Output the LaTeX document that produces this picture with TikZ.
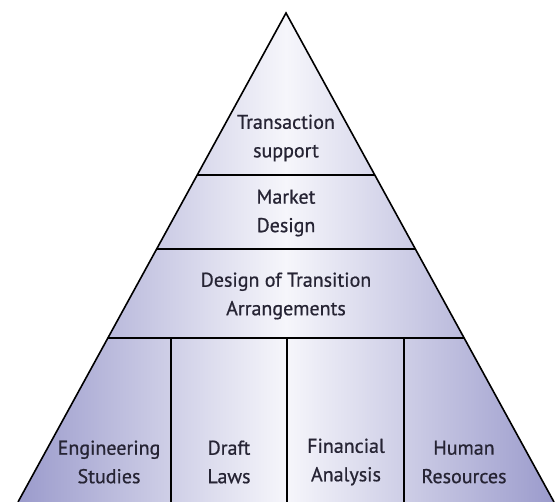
\documentclass[tikz,border=0pt]{standalone}
\usepackage{fontspec}
\setmainfont[FakeBold=0.7]{PT Sans}
\definecolor{edgecol}{RGB}{155,155,204}
\definecolor{midcol}{RGB}{246,246,251}
\definecolor{txtcol}{RGB}{38,36,52}
\begin{document}
\begin{tikzpicture}[x=1pt,y=-1pt,
  lbl/.style={align=center,text=txtcol,font=\fontsize{20}{28.5}\selectfont,inner sep=0pt},
  divline/.style={draw=black,line width=1.6pt}]
\useasboundingbox (0,0) rectangle (556,502);
\coordinate (apex) at (286,13);
\coordinate (bl) at (18,502);
\coordinate (br) at (554,502);
\begin{scope}
  \clip (apex) -- (bl) -- (br) -- cycle;
  \shade[left color=edgecol,right color=edgecol,middle color=midcol] (18,0) rectangle (554,502);
\end{scope}
% horizontal dividers
\draw[divline] (197,175) -- (375,175);
\draw[divline] (156,249) -- (416,249);
\draw[divline] (108,338) -- (464,338);
% vertical dividers
\draw[divline] (171,338) -- (171,502);
\draw[divline] (287,338) -- (287,502);
\draw[divline] (404,338) -- (404,502);
% outline
\draw[divline,line join=miter] (bl) -- (apex) -- (br);
% labels
\node[lbl] (ts) at (286,138) {Transaction\\support};
\node[lbl] (md) at (286,213) {Market\\Design};
\node[lbl] (dt) at (286,296) {Design of Transition\\Arrangements};
\node[lbl] (es) at (109,462) {Engineering\\Studies};
\node[lbl] (dl) at (229,462) {Draft\\Laws};
\node[lbl] (fa) at (346,462) {Financial\\Analysis};
\node[lbl] (hr) at (464,462) {Human\\Resources};
\end{tikzpicture}
\end{document}
